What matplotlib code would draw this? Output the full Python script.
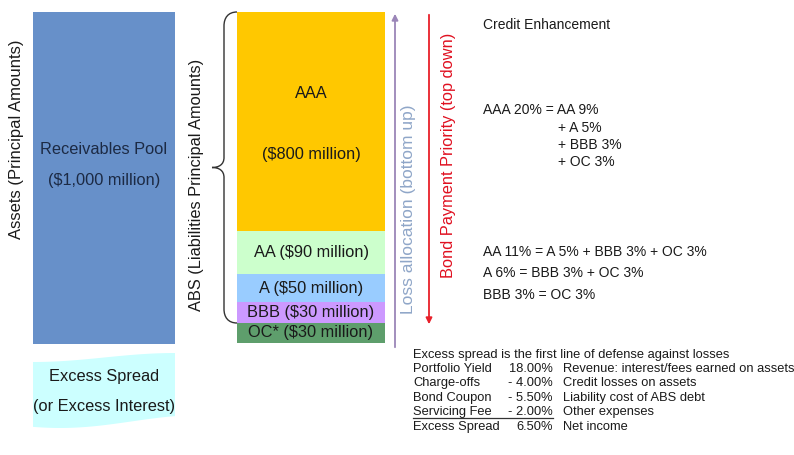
import numpy as np
import matplotlib
matplotlib.use('Agg')
import matplotlib.pyplot as plt
from matplotlib.patches import Polygon, PathPatch, FancyArrowPatch
from matplotlib.path import Path

plt.rcParams['font.family'] = ['Liberation Sans', 'DejaVu Sans']

# --- data ---
pool_amount = 1000  # $ million
tranches = ['AAA', 'AA', 'A', 'BBB', 'OC*']
amounts = [800, 90, 50, 30, 30]  # $ million
tranche_colors = ['#FFC800', '#CCFFCC', '#99CCFF', '#CC99FF', '#5E9E6C']

es_items = ['Portfolio Yield', 'Charge-offs', 'Bond Coupon', 'Servicing Fee', 'Excess Spread']
es_rates = [18.00, -4.00, -5.50, -2.00, 6.50]
es_notes = ['Revenue: interest/fees earned on assets', 'Credit losses on assets',
            'Liability cost of ABS debt', 'Other expenses', 'Net income']

# drawn box heights (schematic, not to scale)
box_heights = [219, 43, 28, 21, 20]

TXT = '#1a1a1a'

fig = plt.figure(figsize=(7.94, 4.55), dpi=100)
ax = fig.add_axes([0, 0, 1, 1])
ax.set_xlim(0, 794)
ax.set_ylim(455, 0)
ax.axis('off')

# assets bar
ax.bar(104, 332, width=142, bottom=12, color='#6790C9')
ax.text(104, 150, 'Receivables Pool', ha='center', va='center', fontsize=11.8, color='#1c2a44')
ax.text(104, 180, f'(${pool_amount:,} million)', ha='center', va='center', fontsize=11.8, color='#1c2a44')
ax.text(17, 139, 'Assets (Principal Amounts)', rotation=90, ha='center', va='center',
        fontsize=12, color=TXT)

# excess spread wave shape
t = np.linspace(0, 1, 80)
xs = 33 + 142 * t
top = 357.5 + 4.5 * np.cos(np.pi * t)
bot = 421.5 + 6.5 * np.cos(np.pi * t - 0.6)
poly = np.vstack([np.column_stack([xs, top]), np.column_stack([xs[::-1], bot[::-1]])])
ax.add_patch(Polygon(poly, closed=True, facecolor='#CCFFFF', edgecolor='none'))
ax.text(104, 377, 'Excess Spread', ha='center', va='center', fontsize=11.8, color=TXT)
ax.text(104, 407, '(or Excess Interest)', ha='center', va='center', fontsize=11.8, color=TXT)

# ABS stack
bottoms = 12 + np.concatenate([[0], np.cumsum(box_heights)[:-1]])
ax.bar(311, box_heights, width=148, bottom=bottoms, color=tranche_colors)
mids = bottoms + np.array(box_heights) / 2
for i, (name, amt) in enumerate(zip(tranches, amounts)):
    if i == 0:
        ax.text(311, 94, name, ha='center', va='center', fontsize=11.8, color=TXT)
        ax.text(311, 155, f'(${amt} million)', ha='center', va='center', fontsize=11.8, color=TXT)
    else:
        ax.text(311, mids[i], f'{name} (${amt} million)', ha='center', va='center',
                fontsize=11.8, color=TXT)

ax.text(197, 185, 'ABS (Liabilities Principal Amounts)', rotation=90, ha='center',
        va='center', fontsize=11.8, color=TXT)

# curly brace
y0, y1 = 12, bottoms[-1]
ym = (y0 + y1) / 2
verts = [(237, y0), (228, y0), (224, y0 + 6), (224, y0 + 14),
         (224, ym - 10), (224, ym - 3), (219, ym), (212, ym),
         (219, ym), (224, ym + 3), (224, ym + 10),
         (224, y1 - 14), (224, y1 - 6), (228, y1), (237, y1)]
codes = [Path.MOVETO, Path.CURVE4, Path.CURVE4, Path.CURVE4,
         Path.LINETO, Path.CURVE4, Path.CURVE4, Path.CURVE4,
         Path.CURVE4, Path.CURVE4, Path.CURVE4,
         Path.LINETO, Path.CURVE4, Path.CURVE4, Path.CURVE4]
ax.add_patch(PathPatch(Path(verts, codes), facecolor='none', edgecolor='#333333', lw=1))

# arrows
ax.add_patch(FancyArrowPatch((395, 350), (395, 11), arrowstyle='-|>', mutation_scale=9,
                             color='#9B86B8', lw=1.3))
ax.text(409, 209, 'Loss allocation (bottom up)', rotation=90, ha='center', va='center',
        fontsize=12.5, color='#8FA6C8')
ax.add_patch(FancyArrowPatch((429, 12), (429, 327), arrowstyle='-|>', mutation_scale=9,
                             color='#E8202A', lw=1.3))
ax.text(448, 155, 'Bond Payment Priority (top down)', rotation=90, ha='center', va='center',
        fontsize=11.8, color='#E01020')

# credit enhancement
pct = [a / pool_amount * 100 for a in amounts]
short = [t.rstrip('*') for t in tranches]
ax.text(483, 25, 'Credit Enhancement', ha='left', va='center', fontsize=10, color=TXT)
ce0 = sum(pct[1:])
ax.text(483, 110, f'{short[0]} {ce0:.0f}% = {short[1]} {pct[1]:.0f}%', ha='left', va='center',
        fontsize=10, color=TXT)
for k, yy in zip(range(2, 5), [128, 145, 162]):
    ax.text(558, yy, f'+ {short[k]} {pct[k]:.0f}%', ha='left', va='center', fontsize=10, color=TXT)
for i, yy in zip(range(1, 4), [252, 273, 295]):
    rhs = ' + '.join(f'{short[k]} {pct[k]:.0f}%' for k in range(i + 1, 5))
    ax.text(483, yy, f'{short[i]} {sum(pct[i + 1:]):.0f}% = {rhs}', ha='left', va='center',
            fontsize=10, color=TXT)

# excess spread table
ax.text(413, 355, 'Excess spread is the first line of defense against losses', ha='left',
        va='center', fontsize=9.3, color=TXT)
for j, (item, r, note) in enumerate(zip(es_items, es_rates, es_notes)):
    yy = 369 + j * 14.4
    ax.text(413, yy, item, ha='left', va='center', fontsize=9.3, color=TXT)
    val = f'{r:.2f}%' if r >= 0 else f'- {abs(r):.2f}%'
    ax.text(553, yy, val, ha='right', va='center', fontsize=9.3, color=TXT)
    ax.text(563, yy, note, ha='left', va='center', fontsize=9.3, color=TXT)
ax.plot([413, 553], [418, 418], color='#333333', lw=0.9)

fig.savefig('out.png', dpi=100)
